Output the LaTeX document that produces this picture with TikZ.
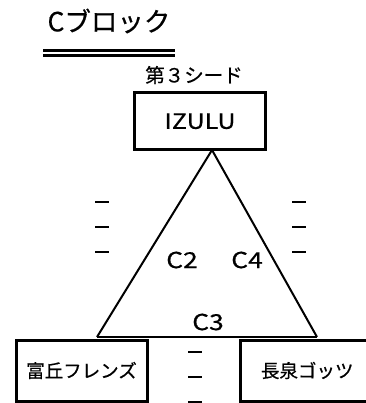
\documentclass[tikz,border=0pt]{standalone}
\usepackage{fontspec}
\setmainfont{Noto Sans CJK JP}[FakeBold=0.6,AutoFakeBold=0.6]
\begin{document}
\begin{tikzpicture}[x=1pt,y=-1pt,
  team/.style={draw,line width=3pt,minimum width=#1,minimum height=61pt,inner sep=0pt,font=\fontsize{18.5}{18.5}\selectfont},
  leg/.style={line width=2pt},
  tick/.style={line width=2.8pt},
  lbl/.style={font=\fontsize{22}{22}\selectfont,inner sep=0pt,xscale=1.2,transform shape}]
\useasboundingbox (0,0) rectangle (365,403);
\node[inner sep=0pt,font=\fontsize{26.5}{26.5}\selectfont] (title) at (109,21) {Cブロック};
\coordinate (ulA) at (43,50.5); \coordinate (ulB) at (175,50.5);
\coordinate (ulC) at (43,55.5); \coordinate (ulD) at (175,55.5);
\draw[line width=3pt] (ulA) -- (ulB);
\draw[line width=3pt] (ulC) -- (ulD);
\node[inner sep=0pt,font=\fontsize{19.5}{19.5}\selectfont] (seed) at (194,75) {第３シード};
\node[draw,line width=3pt,minimum width=131pt,minimum height=56.5pt,inner sep=0pt] (izulu) at (200,121.25) {};
\node[inner sep=0pt,font=\fontsize{21}{21}\selectfont,xscale=1.19,transform shape] (izulutext) at (izulu.center) {IZULU};
\coordinate (apex) at (212,150);
\coordinate (bl) at (97,337);
\coordinate (br) at (317,337);
\draw[leg] (bl) -- (apex) -- (br);
\draw[line width=1.5pt] (bl) -- (br);
\node[team=131pt] (tomioka) at (81.5,370.5) {富丘フレンズ};
\node[team=127pt,text width=127pt,align=left] (nagaizumi) at (303.5,370.5) {\hspace*{21pt}長泉ゴッツ};
\node[lbl] (c2) at (182,260) {C2};
\node[lbl] (c4) at (247,260) {C4};
\node[lbl] (c3) at (208,322) {C3};
\foreach \yy in {202,227,252} {
  \draw[tick] (95,\yy) -- (109,\yy);
  \draw[tick] (292,\yy) -- (306,\yy);
}
\foreach \yy in {352,377,402} {
  \draw[tick] (188,\yy) -- (202,\yy);
}
\end{tikzpicture}
\end{document}
